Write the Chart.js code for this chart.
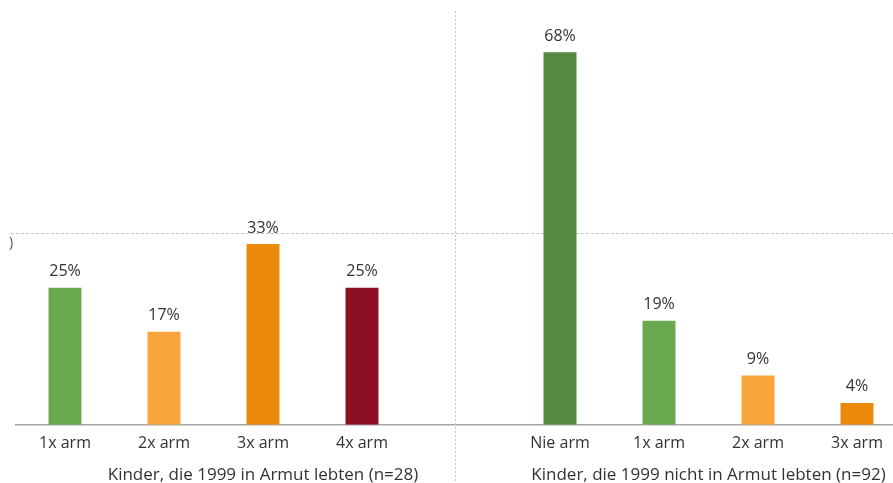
<!DOCTYPE html>
<html>
<head>
<meta charset="utf-8">
<script src="https://cdn.jsdelivr.net/npm/chart.js@4/dist/chart.umd.min.js"></script>
<style>
  html, body { margin: 0; padding: 0; background: #fff; overflow: hidden; }
  #wrap { position: relative; width: 910px; height: 483px; }
</style>
</head>
<body>
<div id="wrap"><canvas id="armutChart"></canvas></div>
<script>
// Two groups of children, shown side by side on one category axis
const groupLabels = ['Kinder, die 1999 in Armut lebten (n=28)', 'Kinder, die 1999 nicht in Armut lebten (n=92)'];
const leftCategories = ['1x arm', '2x arm', '3x arm', '4x arm'];
const leftValues = [25, 17, 33, 25];
const leftColors = ['#6aa84f', '#f9a53b', '#eb890b', '#8c0f24'];
const rightCategories = ['Nie arm', '1x arm', '2x arm', '3x arm'];
const rightValues = [68, 19, 9, 4];
const rightColors = ['#548a42', '#6aa84f', '#f9a53b', '#eb890b'];
const refLine = 35;

// empty slot between the two groups
const labels = [...leftCategories, '', ...rightCategories];
const values = [...leftValues, null, ...rightValues];
const colors = [...leftColors, 'transparent', ...rightColors];

const fontFamily = '"Open Sans", "DejaVu Sans", sans-serif';
const textColor = '#333333';

const overlay = {
    id: 'overlay',
    beforeDatasetsDraw(chart) {
        const { ctx, scales: { x, y } } = chart;
        ctx.save();
        ctx.strokeStyle = '#c4c4c4';
        ctx.lineWidth = 1;

        // dashed reference line
        const yRef = Math.round(y.getPixelForValue(refLine)) + 0.5;
        ctx.setLineDash([3, 2]);
        ctx.beginPath();
        ctx.moveTo(11, yRef);
        ctx.lineTo(chart.width, yRef);
        ctx.stroke();

        // dashed separator between the groups
        const xSep = Math.round(x.getPixelForValue(4) - 6) + 0.5;
        ctx.setLineDash([2, 2]);
        ctx.beginPath();
        ctx.moveTo(xSep, 11);
        ctx.lineTo(xSep, chart.height);
        ctx.stroke();

        ctx.setLineDash([]);
        ctx.fillStyle = '#555555';
        ctx.font = '14px ' + fontFamily;
        ctx.textAlign = 'left';
        ctx.textBaseline = 'middle';
        ctx.fillText(')', 9, yRef + 10);
        ctx.restore();
    },
    afterDatasetsDraw(chart) {
        const { ctx, scales: { x } } = chart;
        ctx.save();
        ctx.fillStyle = textColor;
        ctx.textAlign = 'center';

        // value labels above the bars
        ctx.font = '16px ' + fontFamily;
        ctx.textBaseline = 'bottom';
        chart.getDatasetMeta(0).data.forEach((bar, i) => {
            if (values[i] == null) return;
            ctx.fillText(values[i] + '%', bar.x, bar.y - 8);
        });

        // group captions under the category labels
        ctx.font = '17px ' + fontFamily;
        ctx.textBaseline = 'middle';
        const leftMid = (x.getPixelForValue(0) + x.getPixelForValue(4)) / 2;
        const rightMid = (x.getPixelForValue(5) + x.getPixelForValue(8)) / 2;
        ctx.fillText(groupLabels[0], leftMid, chart.height - 8);
        ctx.fillText(groupLabels[1], rightMid, chart.height - 8);
        ctx.restore();
    }
};

new Chart(document.getElementById('armutChart'), {
    type: 'bar',
    data: {
        labels: labels,
        datasets: [{
            data: values,
            backgroundColor: colors,
            barPercentage: 0.333,
            categoryPercentage: 1
        }]
    },
    options: {
        responsive: true,
        maintainAspectRatio: false,
        animation: false,
        layout: { padding: { left: 15.5, right: 3.5, top: 14, bottom: 21 } },
        plugins: {
            legend: { display: false },
            tooltip: { enabled: false }
        },
        scales: {
            x: {
                grid: { display: false, drawTicks: false },
                border: { color: '#a6a6a6', width: 1.5 },
                ticks: {
                    color: textColor,
                    font: { family: fontFamily, size: 16 },
                    padding: 9,
                    autoSkip: false,
                    maxRotation: 0
                }
            },
            y: {
                display: false,
                min: 0,
                max: 75
            }
        }
    },
    plugins: [overlay]
});
</script>
</body>
</html>
